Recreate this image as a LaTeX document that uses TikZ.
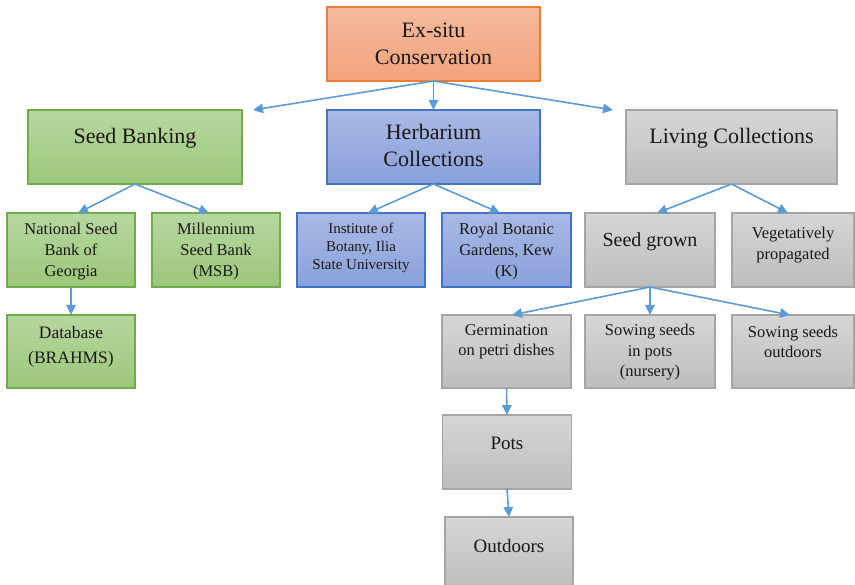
\documentclass[tikz,border=0pt]{standalone}
\usepackage{fontspec}
\setmainfont{Liberation Serif}
\usetikzlibrary{arrows.meta}

\definecolor{orangeline}{RGB}{237,125,49}
\definecolor{orangetop}{RGB}{245,186,158}
\definecolor{orangebot}{RGB}{242,163,124}
\definecolor{greenline}{RGB}{112,173,71}
\definecolor{greentop}{RGB}{182,215,160}
\definecolor{greenbot}{RGB}{156,199,122}
\definecolor{blueline}{RGB}{68,114,196}
\definecolor{bluetop}{RGB}{170,185,228}
\definecolor{bluebot}{RGB}{136,161,219}
\definecolor{grayline}{RGB}{165,165,165}
\definecolor{graytop}{RGB}{214,214,214}
\definecolor{graybot}{RGB}{189,189,189}
\definecolor{arrowblue}{RGB}{91,155,213}
\definecolor{textdark}{RGB}{28,24,22}

\begin{document}
\begin{tikzpicture}[
        x=1pt, y=-1pt,
        every node/.style={inner sep=0pt, outer sep=0pt, text=textdark},
        boxbase/.style={rectangle, line width=1.3pt, minimum height=74pt},
        nodeorange/.style={boxbase, draw=orangeline, top color=orangetop, bottom color=orangebot},
        nodegreen/.style={boxbase, draw=greenline, top color=greentop, bottom color=greenbot},
        nodeblue/.style={boxbase, draw=blueline, top color=bluetop, bottom color=bluebot},
        nodegray/.style={boxbase, draw=grayline, top color=graytop, bottom color=graybot},
        bigtext/.style={align=center, font=\fontsize{22}{27}\selectfont},
        midtext/.style={align=center, font=\fontsize{17.5}{25}\selectfont},
        smalltext/.style={align=center, font=\fontsize{16.5}{21}\selectfont},
        seta/.style={draw=arrowblue, line width=1.6pt, -{Triangle[length=10pt,width=9.5pt]}}
        ]
        \useasboundingbox (0,0) rectangle (855,585);
        \clip (0,0) rectangle (855,585);

        % caixas
        \node [nodeorange, minimum width=213pt] (exsitu) at (433.5,44) {};
        \node [nodegreen, minimum width=214pt] (seedbank) at (135,147) {};
        \node [nodeblue, minimum width=213pt] (herb) at (433.5,147) {};
        \node [nodegray, minimum width=211pt] (living) at (731.5,147) {};

        \node [nodegreen, minimum width=128pt] (natseed) at (71,250) {};
        \node [nodegreen, minimum width=128pt] (millen) at (216,250) {};
        \node [nodeblue, minimum width=128pt] (inst) at (361,250) {};
        \node [nodeblue, minimum width=129pt] (royal) at (506.5,250) {};
        \node [nodegray, minimum width=130pt] (seedgrown) at (650,250) {};
        \node [nodegray, minimum width=122pt] (veget) at (793,250) {};

        \node [nodegreen, minimum width=128pt, minimum height=73pt] (database) at (71,351.5) {};
        \node [nodegray, minimum width=129pt, minimum height=73pt] (germ) at (506.5,351.5) {};
        \node [nodegray, minimum width=130pt, minimum height=73pt] (sowpots) at (650,351.5) {};
        \node [nodegray, minimum width=122pt, minimum height=73pt] (sowout) at (793,351.5) {};

        \node [nodegray, minimum width=129pt] (pots) at (507,452) {};
        \node [nodegray, minimum width=128pt] (outdoors) at (509,554) {};

        % textos
        \node [bigtext] (exsitut) at (433.5,44) {Ex-situ\\Conservation};
        \node [bigtext] (seedbankt) at (135,138) {Seed Banking};
        \node [bigtext] (herbt) at (433.5,145) {Herbarium\\Collections};
        \node [bigtext] (livingt) at (731.5,138) {Living Collections};

        \node [smalltext] (natseedt) at (71,251.5) {National Seed\\Bank of\\Georgia};
        \node [smalltext] (millent) at (216,251.5) {Millennium\\Seed Bank\\(MSB)};
        \node [align=center, font=\fontsize{15}{18}\selectfont] (instt) at (361,247.5) {Institute of\\Botany, Ilia\\State University};
        \node [smalltext] (royalt) at (506.5,251.5) {Royal Botanic\\Gardens, Kew\\(K)};
        \node [align=center, font=\fontsize{20}{24}\selectfont] (seedgrownt) at (650,242) {Seed grown};
        \node [smalltext] (vegett) at (793,245) {Vegetatively\\propagated};

        \node [midtext] (databaset) at (71,346.5) {Database\\(BRAHMS)};
        \node [smalltext, font=\fontsize{16.5}{19.5}\selectfont] (germt) at (506.5,342) {Germination\\on petri dishes};
        \node [smalltext, font=\fontsize{16.5}{20.5}\selectfont] (sowpotst) at (650,352.5) {Sowing seeds\\in pots\\(nursery)};
        \node [smalltext, font=\fontsize{16.5}{19.5}\selectfont] (sowoutt) at (793,342) {Sowing seeds\\outdoors};

        \node [align=center, font=\fontsize{19}{25}\selectfont] (potst) at (507,443) {Pots};
        \node [align=center, font=\fontsize{19}{25}\selectfont] (outdoorst) at (509,546) {Outdoors};

        % setas
        \draw[seta] (exsitu.south) -- ([xshift=11pt]seedbank.north east);
        \draw[seta] (exsitu.south) -- (herb.north);
        \draw[seta] (exsitu.south) -- ([xshift=-13pt]living.north west);

        \draw[seta] (seedbank.south) -- ([xshift=7pt]natseed.north);
        \draw[seta] (seedbank.south) -- ([xshift=-7pt]millen.north);
        \draw[seta] (herb.south) -- ([xshift=7pt]inst.north);
        \draw[seta] (herb.south) -- ([xshift=-6.5pt]royal.north);
        \draw[seta] (living.south) -- ([xshift=7pt]seedgrown.north);
        \draw[seta] (living.south) -- ([xshift=-5pt]veget.north);

        \draw[seta] (natseed.south) -- (database.north);
        \draw[seta] (seedgrown.south) -- ([xshift=5.5pt]germ.north);
        \draw[seta] (seedgrown.south) -- (sowpots.north);
        \draw[seta] (seedgrown.south) -- ([xshift=-3pt]sowout.north);

        \draw[seta] (germ.south) -- (pots.north);
        \draw[seta] (pots.south) -- (outdoors.north);
    \end{tikzpicture}
\end{document}
